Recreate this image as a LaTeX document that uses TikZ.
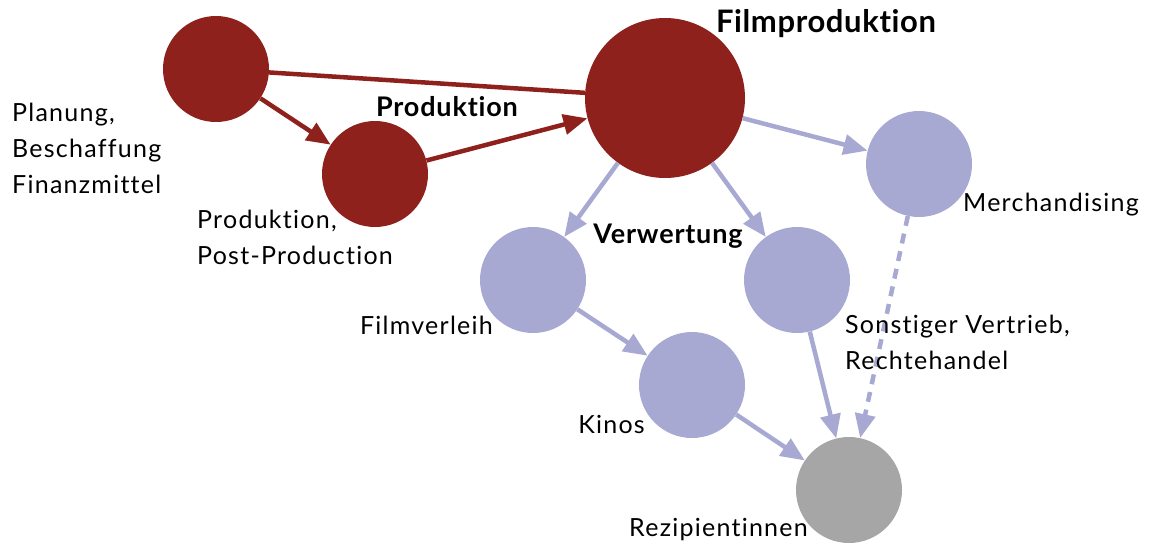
\documentclass[tikz,border=0pt]{standalone}
\usepackage{fontspec}
\setmainfont{Lato}[Ligatures={NoCommon}]
\usetikzlibrary{arrows.meta}
\definecolor{dred}{HTML}{8E211C}
\definecolor{lav}{HTML}{A8A9D3}
\definecolor{gry}{HTML}{A6A6A6}
\tikzset{
  dot/.style={circle, inner sep=0pt, minimum size=#1, draw=none},
  reddot/.style={dot=#1, fill=dred},
  lavdot/.style={dot=#1, fill=lav},
  lbl/.style={font=\fontsize{25}{36}\selectfont\addfontfeature{LetterSpace=5}, inner sep=0pt, align=left, text=black},
  head/.style={font=\fontsize{27}{30}\selectfont\bfseries\addfontfeature{LetterSpace=3}, inner sep=0pt, text=black},
  redline/.style={draw=dred, line width=4.5pt},
  redarrow/.style={redline, -{Triangle[length=24pt,width=20pt]}},
  lavarrow/.style={draw=lav, line width=4.5pt, -{Triangle[length=24pt,width=20pt]}},
  dasharrow/.style={lavarrow, dash pattern=on 10pt off 8pt},
}
\begin{document}
\begin{tikzpicture}[x=1pt,y=-1pt]
\useasboundingbox (0,0) rectangle (1153,544);
% circles
\node[reddot=106] (plan) at (216,69) {};
\node[reddot=106] (prod) at (375,174) {};
\node[reddot=160] (film) at (665,98) {};
\node[lavdot=106] (merch) at (919,164) {};
\node[lavdot=106] (verl) at (533,280) {};
\node[lavdot=106] (sonst) at (797,280) {};
\node[lavdot=106] (kino) at (692,385) {};
\node[dot=106, fill=gry] (rez) at (849,490) {};
% connectors
\draw[redline] (plan) -- (film);
\draw[redarrow] (plan) -- (prod);
\draw[redarrow] (prod) -- (film);
\draw[lavarrow] (film) -- (merch);
\draw[lavarrow] (film) -- (verl);
\draw[lavarrow] (film) -- (sonst);
\draw[lavarrow] (verl) -- (kino);
\draw[lavarrow] (kino) -- (rez);
\draw[lavarrow] (sonst) -- (rez);
\draw[dasharrow] (merch) -- (rez);
% labels
\node[lbl, anchor=west] (tplan) at (12,148) {Planung,\\Beschaffung\\Finanzmittel};
\node[lbl, anchor=west] (tprod) at (197,237) {Produktion,\\Post-Production};
\node[lbl, anchor=east] (tverl) at (493,325) {Filmverleih};
\node[lbl, anchor=east] (tkino) at (645,424) {Kinos};
\node[lbl, anchor=west] (trez) at (629,530) {Rezipientinnen};
\node[lbl, anchor=west] (tsonst) at (845,342) {Sonstiger Vertrieb,\\Rechtehandel};
\node[lbl, anchor=west] (tmerch) at (963,205) {Merchandising};
\node[head, font=\fontsize{31}{36}\selectfont\bfseries\addfontfeature{LetterSpace=2}] (hfilm) at (826,24) {Filmproduktion};
\node[head] (hprod) at (447,107) {Produktion};
\node[head] (hverw) at (668,236) {Verwertung};
\end{tikzpicture}
\end{document}
